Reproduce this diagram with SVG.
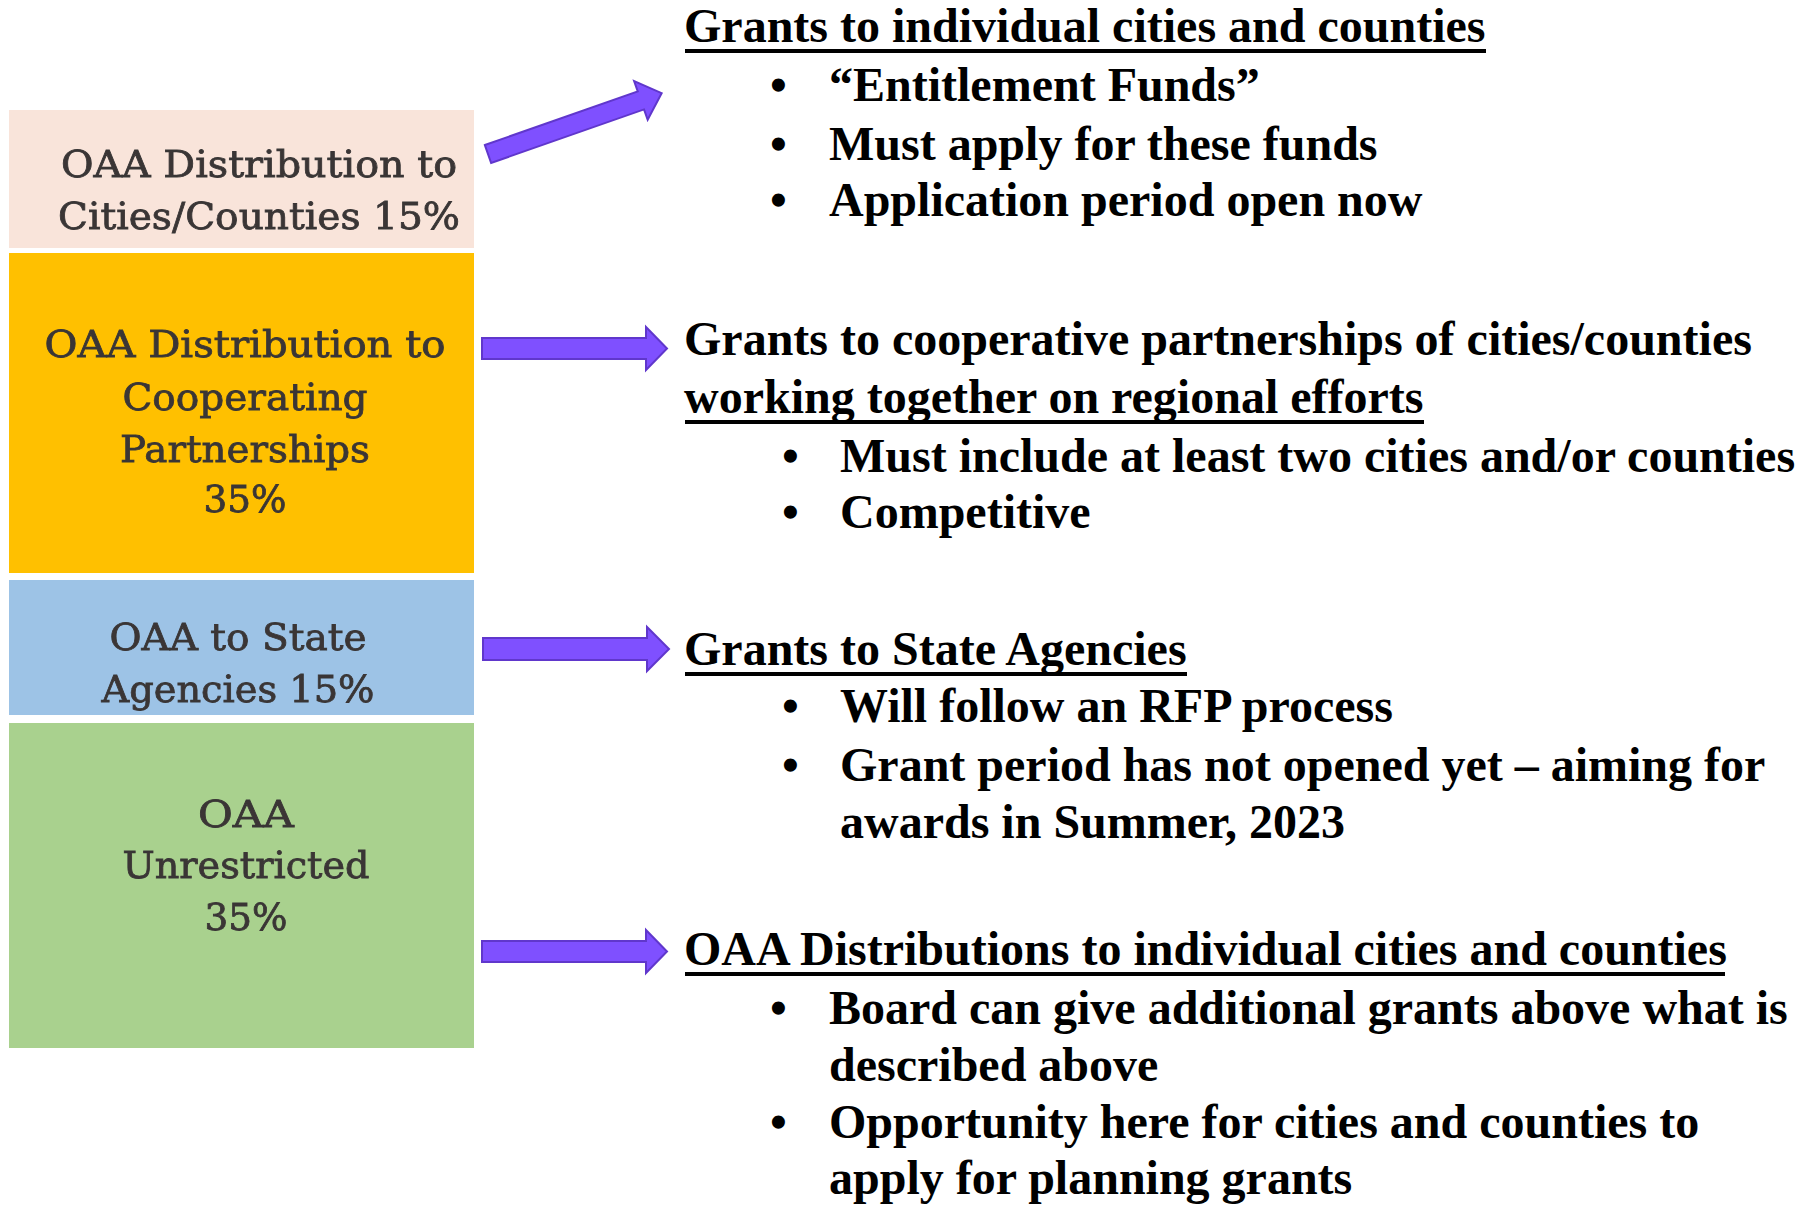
<svg xmlns="http://www.w3.org/2000/svg" width="1800" height="1207" viewBox="0 0 1800 1207">
  <defs>
    <filter id="soft" x="-5%" y="-20%" width="110%" height="140%">
      <feGaussianBlur stdDeviation="0.6"/>
    </filter>
    <style>
      .seg-label { font-family: "DejaVu Serif", "Liberation Serif", serif; font-size: 37px; fill: #3a3636; stroke: #3a3636; stroke-width: 0.8; text-anchor: middle; }
      .head { font-family: "Liberation Serif", "Times New Roman", serif; font-size: 48px; font-weight: bold; fill: #000; }
      .item { font-family: "Liberation Serif", "Times New Roman", serif; font-size: 48px; font-weight: bold; fill: #000; }
      .rule { fill: #000; }
      .arrow { fill: #7f50ff; stroke: #6037cc; stroke-width: 2; stroke-linejoin: miter; }
    </style>
  </defs>

  <rect width="1800" height="1207" fill="#ffffff"/>

  <!-- Funding split column -->
  <g id="seg-cities">
    <rect x="9" y="110" width="465" height="138" fill="#f9e4da"/>
    <g filter="url(#soft)">
      <text class="seg-label" x="259" y="177" textLength="396" lengthAdjust="spacingAndGlyphs">OAA Distribution to</text>
      <text class="seg-label" x="259" y="229" textLength="402" lengthAdjust="spacingAndGlyphs">Cities/Counties 15%</text>
    </g>
  </g>

  <g id="seg-partnerships">
    <rect x="9" y="253" width="465" height="320" fill="#ffc000"/>
    <g filter="url(#soft)">
      <text class="seg-label" x="245" y="357" textLength="401" lengthAdjust="spacingAndGlyphs">OAA Distribution to</text>
      <text class="seg-label" x="245" y="410" textLength="245" lengthAdjust="spacingAndGlyphs">Cooperating</text>
      <text class="seg-label" x="245" y="462" textLength="250" lengthAdjust="spacingAndGlyphs">Partnerships</text>
      <text class="seg-label" x="245" y="512" textLength="83" lengthAdjust="spacingAndGlyphs">35%</text>
    </g>
  </g>

  <g id="seg-state">
    <rect x="9" y="580" width="465" height="135" fill="#9dc3e6"/>
    <g filter="url(#soft)">
      <text class="seg-label" x="238" y="650" textLength="257" lengthAdjust="spacingAndGlyphs">OAA to State</text>
      <text class="seg-label" x="238" y="702" textLength="273" lengthAdjust="spacingAndGlyphs">Agencies 15%</text>
    </g>
  </g>

  <g id="seg-unrestricted">
    <rect x="9" y="723" width="465" height="325" fill="#a9d18e"/>
    <g filter="url(#soft)">
      <text class="seg-label" x="246" y="827" textLength="96" lengthAdjust="spacingAndGlyphs">OAA</text>
      <text class="seg-label" x="246" y="878" textLength="247" lengthAdjust="spacingAndGlyphs">Unrestricted</text>
      <text class="seg-label" x="246" y="930" textLength="83" lengthAdjust="spacingAndGlyphs">35%</text>
    </g>
  </g>

  <!-- Block arrows from each segment to its description -->
  <g id="connectors">
    <polygon class="arrow" transform="translate(488 154) rotate(-19.3)" points="0,-9.5 162,-9.5 162,-20.5 184,0 162,20.5 162,9.5 0,9.5"/>
    <polygon class="arrow" points="482,338 646,338 646,327 667,348.5 646,370 646,359 482,359"/>
    <polygon class="arrow" points="483,638 647,638 647,627 669,649 647,671 647,660 483,660"/>
    <polygon class="arrow" points="482,941 646,941 646,930 667,951.5 646,973 646,962 482,962"/>
  </g>

  <!-- Descriptions -->
  <g id="desc-entitlement">
    <text class="head" x="684" y="42">Grants to individual cities and counties</text>
    <rect class="rule" x="685" y="49" width="801" height="4"/>
    <text class="item" x="770" y="101">•</text>
    <text class="item" x="829" y="101">“Entitlement Funds”</text>
    <text class="item" x="770" y="160">•</text>
    <text class="item" x="829" y="160">Must apply for these funds</text>
    <text class="item" x="770" y="216">•</text>
    <text class="item" x="829" y="216">Application period open now</text>
  </g>

  <g id="desc-partnerships">
    <text class="head" x="684" y="355">Grants to cooperative partnerships of cities/counties</text>
    <text class="head" x="684" y="413">working together on regional efforts</text>
    <rect class="rule" x="685" y="420" width="739" height="4"/>
    <text class="item" x="782" y="472">•</text>
    <text class="item" x="840" y="472">Must include at least two cities and/or counties</text>
    <text class="item" x="782" y="528">•</text>
    <text class="item" x="840" y="528">Competitive</text>
  </g>

  <g id="desc-state">
    <text class="head" x="684" y="665">Grants to State Agencies</text>
    <rect class="rule" x="685" y="672" width="502" height="4"/>
    <text class="item" x="782" y="722">•</text>
    <text class="item" x="840" y="722">Will follow an RFP process</text>
    <text class="item" x="782" y="781">•</text>
    <text class="item" x="840" y="781">Grant period has not opened yet – aiming for</text>
    <text class="item" x="840" y="838">awards in Summer, 2023</text>
  </g>

  <g id="desc-unrestricted">
    <text class="head" x="684" y="965">OAA Distributions to individual cities and counties</text>
    <rect class="rule" x="685" y="972" width="1040" height="4"/>
    <text class="item" x="770" y="1024">•</text>
    <text class="item" x="829" y="1024">Board can give additional grants above what is</text>
    <text class="item" x="829" y="1081">described above</text>
    <text class="item" x="770" y="1138">•</text>
    <text class="item" x="829" y="1138">Opportunity here for cities and counties to</text>
    <text class="item" x="829" y="1194">apply for planning grants</text>
  </g>
</svg>
